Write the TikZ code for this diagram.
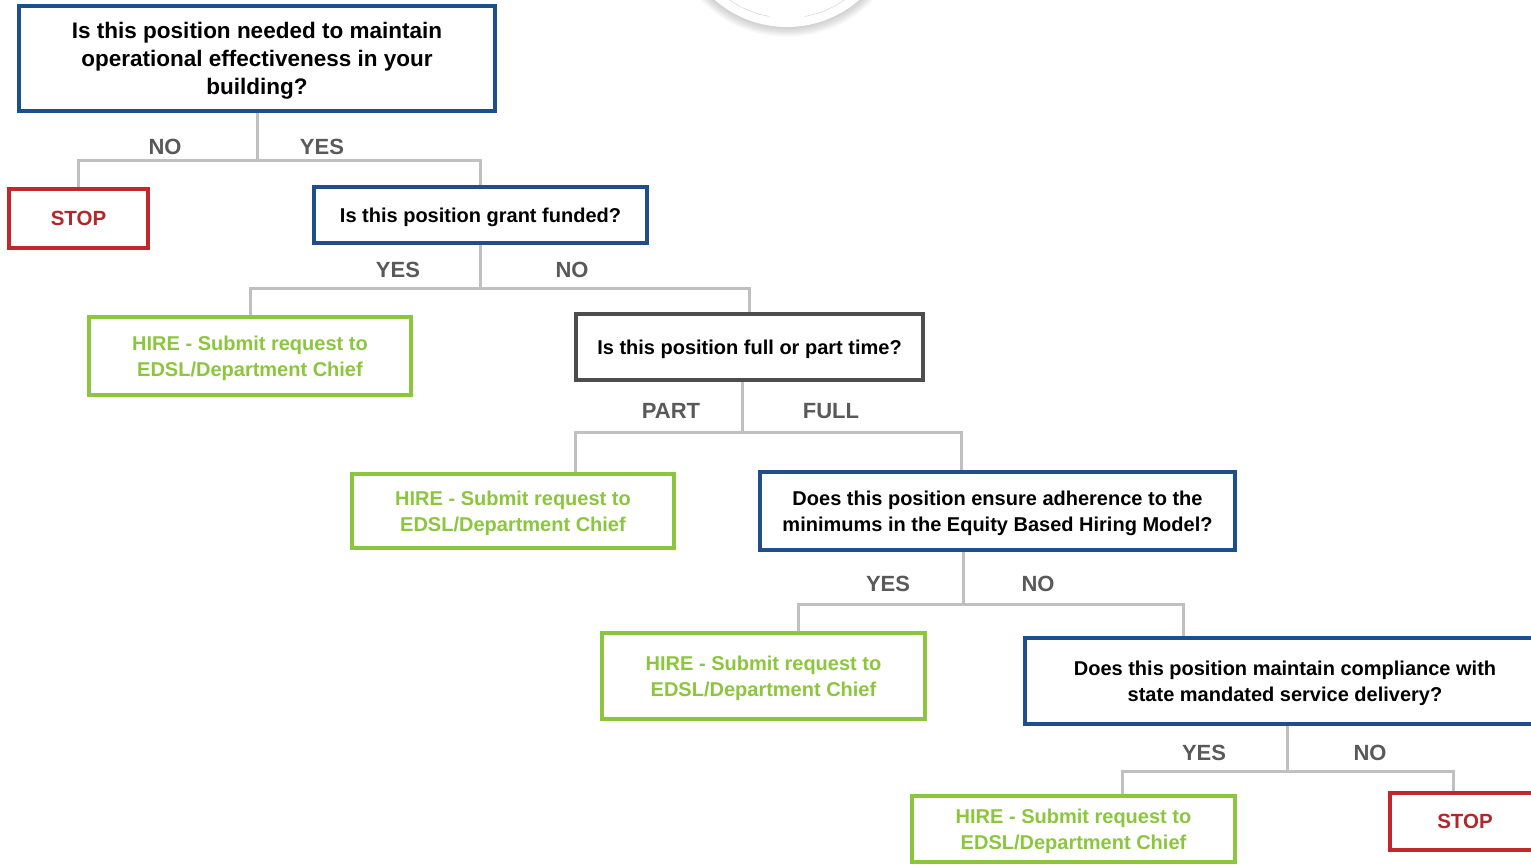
\documentclass[tikz,border=0pt]{standalone}
\usepackage{fontspec}
\setmainfont{Liberation Sans}
\usepackage{tikz}

\definecolor{qblue}{HTML}{1F4E8C}
\definecolor{qgray}{HTML}{4D4D4D}
\definecolor{hiregreen}{HTML}{8CC63F}
\definecolor{stopred}{HTML}{C1272D}
\definecolor{stoptext}{HTML}{B0282A}
\definecolor{linkgray}{HTML}{C0C0C0}
\definecolor{lblgray}{HTML}{595959}

\begin{document}
\begin{tikzpicture}[x=1pt, y=-1pt,
		every node/.style={font=\bfseries},
		box/.style={draw, line width=3.4pt, fill=white, align=center, inner sep=0pt, text depth=0pt},
		question/.style={box, draw=qblue, text=black, font=\bfseries\fontsize{20}{26}\selectfont},
		hire/.style={box, draw=hiregreen, text=hiregreen, font=\bfseries\fontsize{20}{26}\selectfont},
		stopbox/.style={box, draw=stopred, text=stoptext, font=\bfseries\fontsize{20.5}{24}\selectfont},
		link/.style={draw=linkgray, line width=3pt},
		answer/.style={text=lblgray, font=\bfseries\fontsize{22}{24}\selectfont}]
		\useasboundingbox (0,0) rectangle (1531,865);
		
		% badge at the top
		\foreach \r in {1,...,10}
			\fill[black, opacity=0.018] (787,-83) circle (110+\r);
		\fill[white] (787,-83) circle (110);
		\draw[gray!40, thin] (787,-83) ++(55:101) arc (55:80:101);
		\draw[gray!40, thin] (787,-83) ++(100:101) arc (100:125:101);
		
		\node[question, minimum width=476, minimum height=105, font=\bfseries\fontsize{22.5}{28}\selectfont]
			(q1) at (257,58.5) {Is this position needed to maintain\\operational effectiveness in your\\building?};
		\node[stopbox, minimum width=139, minimum height=59] (stop1) at (78.5,218.5) {STOP};
		\node[question, minimum width=333, minimum height=56] (q2) at (480.5,215) {Is this position grant funded?};
		\node[hire, minimum width=322, minimum height=78] (hire1) at (250,356) {HIRE - Submit request to\\EDSL/Department Chief};
		\node[question, draw=qgray, minimum width=347, minimum height=66] (q3) at (749.5,347) {Is this position full or part time?};
		\node[hire, minimum width=322, minimum height=74] (hire2) at (513,511) {HIRE - Submit request to\\EDSL/Department Chief};
		\node[question, minimum width=475, minimum height=78] (q4) at (997.5,511) {Does this position ensure adherence to the\\minimums in the Equity Based Hiring Model?};
		\node[hire, minimum width=323, minimum height=86] (hire3) at (763.5,676) {HIRE - Submit request to\\EDSL/Department Chief};
		\node[question, minimum width=520, minimum height=86] (q5) at (1285,681) {Does this position maintain compliance with\\state mandated service delivery?};
		\node[hire, minimum width=323, minimum height=66] (hire4) at (1073.5,829) {HIRE - Submit request to\\EDSL/Department Chief};
		\node[stopbox, minimum width=150, minimum height=57] (stop2) at (1465,821.5) {STOP};
		
		% connectors
		\draw[link] (q1.south) -- ++(0,48) coordinate (j1);
		\draw[link] (stop1.north) |- (j1) -| (q2.north);
		\draw[link] (q2.south) -- ++(0,44) coordinate (j2);
		\draw[link] (hire1.north) |- (j2) -| (q3.north);
		\draw[link] ([xshift=-7.5]q3.south) -- ++(0,51) coordinate (j3);
		\draw[link] ([xshift=62]hire2.north) |- (j3) -| ([xshift=-36.5]q4.north);
		\draw[link] ([xshift=-34.5]q4.south) -- ++(0,53) coordinate (j4);
		\draw[link] ([xshift=34.5]hire3.north) |- (j4) -| ([xshift=-102]q5.north);
		\draw[link] ([xshift=2]q5.south) -- ++(0,46) coordinate (j5);
		\draw[link] ([xshift=48.5]hire4.north) |- (j5) -| ([xshift=-12]stop2.north);
		
		\node[answer] (no1) at (165,147) {NO};
		\node[answer] (yes1) at (322,147) {YES};
		\node[answer] (yes2) at (398,270) {YES};
		\node[answer] (no2) at (572,270) {NO};
		\node[answer] (part) at (671,411) {PART};
		\node[answer] (full) at (831,411) {FULL};
		\node[answer] (yes3) at (888,584) {YES};
		\node[answer] (no3) at (1038,584) {NO};
		\node[answer] (yes4) at (1204,753) {YES};
		\node[answer] (no4) at (1370,753) {NO};
		
	\end{tikzpicture}
\end{document}
